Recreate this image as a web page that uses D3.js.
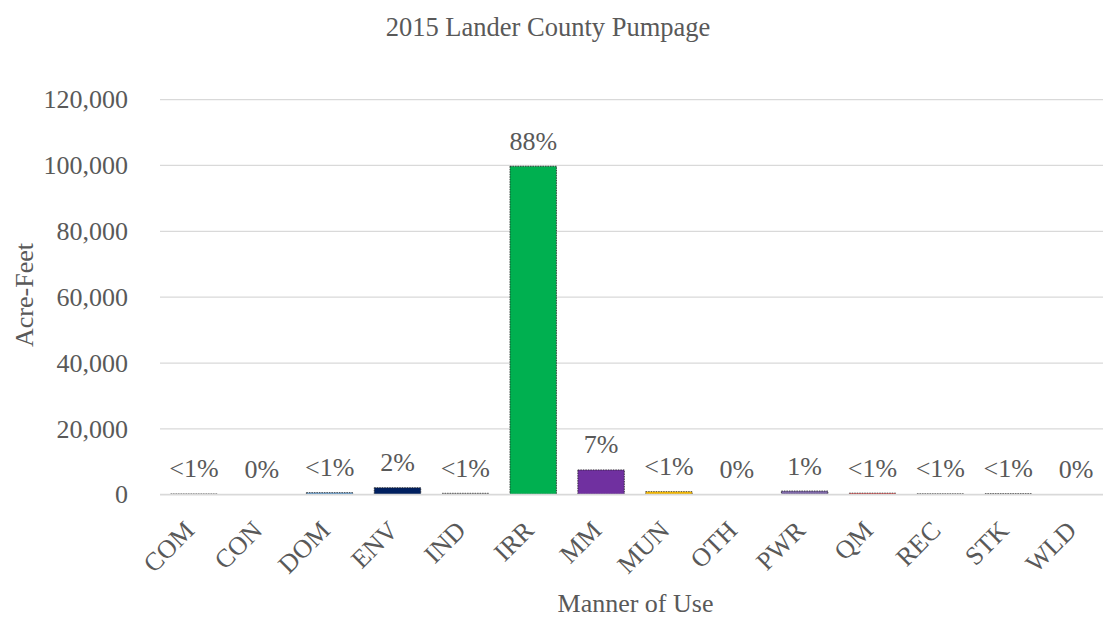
<!DOCTYPE html>
<html><head><meta charset="utf-8">
<script src="https://cdn.jsdelivr.net/npm/d3@7"></script>
<style>body{margin:0;background:#fff}</style>
</head><body><svg id="c" width="1103" height="620"></svg>
<script>
const categories = ["COM","CON","DOM","ENV","IND","IRR","MM","MUN","OTH","PWR","QM","REC","STK","WLD"];
const values = [100,0,500,2000,300,99600,7400,800,0,1000,350,150,200,0];
const labels = ["<1%","0%","<1%","2%","<1%","88%","7%","<1%","0%","1%","<1%","<1%","<1%","0%"];
const colors = ["#D9D9D9","#A5A5A5","#5B9BD5","#002060","#A5A5A5","#00B050","#7030A0","#FFC000","#A5A5A5","#7F6AA8","#FF3B3B","#A5A5A5","#A5A5A5","#A5A5A5"];
const yTicks = [0,20000,40000,60000,80000,100000,120000];
const FONT = "'Liberation Serif', 'DejaVu Serif', 'Times New Roman', serif";
const FS = 26;

const svg = d3.select("#c");
const m = {l:160, r:1110, t:99.1, b:494.3};
const x = d3.scaleBand().domain(categories).range([m.l, m.r]).paddingInner(0.315).paddingOuter(0.1575);
const y = d3.scaleLinear().domain([0,120000]).range([m.b, m.t]);

function txt(sel, size){ return sel.attr("font-family",FONT).attr("fill","#595959").style("font-size",size+"px"); }

txt(svg.append("text").attr("x",548).attr("y",36).attr("text-anchor","middle"),FS+0.5).text("2015 Lander County Pumpage");

const gy = svg.append("g").attr("transform",`translate(${m.l},0)`)
  .call(d3.axisLeft(y).tickValues(yTicks).tickSize(-(1103-m.l)).tickFormat(d3.format(",")).tickPadding(32));
gy.attr("font-family",FONT);
gy.select(".domain").remove();
gy.selectAll("line").attr("stroke","#D9D9D9").attr("stroke-width",1.3);
txt(gy.selectAll("text"),FS).attr("dy","0.33em");

txt(svg.append("text").attr("transform",`translate(33,295) rotate(-90)`).attr("text-anchor","middle"),FS).text("Acre-Feet");

svg.selectAll("rect.bar").data(categories).enter().append("rect").attr("class","bar")
  .attr("x",d=>x(d)).attr("width",x.bandwidth())
  .attr("y",(d,i)=>y(values[i])).attr("height",(d,i)=>y(0)-y(values[i]))
  .attr("fill",(d,i)=>colors[i])
  .attr("stroke",(d,i)=>values[i]>0?"#222":"none").attr("stroke-width",0.8).attr("stroke-dasharray","1.5,1");

txt(svg.selectAll("text.lab").data(categories).enter().append("text").attr("class","lab")
  .attr("x",d=>x(d)+x.bandwidth()/2).attr("y",(d,i)=>y(values[i])-16.5)
  .attr("text-anchor","middle"),FS).text((d,i)=>labels[i]);

svg.append("line").attr("x1",m.l).attr("x2",1103).attr("y1",m.b).attr("y2",m.b).attr("stroke","#D9D9D9").attr("stroke-width",1.3);

txt(svg.selectAll("text.xt").data(categories).enter().append("text").attr("class","xt")
  .attr("transform",d=>`translate(${x(d)+x.bandwidth()/2+2},532) rotate(-45)`)
  .attr("text-anchor","end"),FS).text(d=>d);

txt(svg.append("text").attr("x",635.5).attr("y",612).attr("text-anchor","middle"),FS).text("Manner of Use");
</script></body></html>
